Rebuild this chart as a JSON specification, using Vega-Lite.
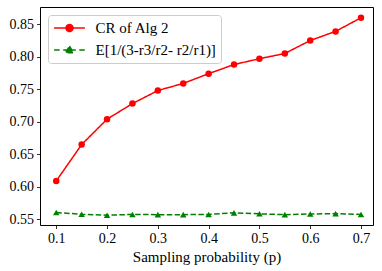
{
  "$schema": "https://vega.github.io/schema/vega-lite/v6.json",
  "width": 333,
  "height": 218,
  "autosize": {"type": "none"},
  "padding": {"left": 40, "top": 7, "right": 9, "bottom": 46},
  "background": "white",
  "config": {
    "font": "Liberation Serif, Times New Roman, serif",
    "view": {"stroke": "black", "strokeWidth": 1},
    "axis": {"grid": false, "domain": false, "tickColor": "black", "tickSize": 3.5, "tickWidth": 0.8, "labelColor": "black", "labelFontSize": 14, "labelFont": "Liberation Serif, Times New Roman, serif", "titleFont": "Liberation Serif, Times New Roman, serif", "titleFontWeight": "normal", "titleColor": "black", "titleFontSize": 15}
  },
  "data": {"values": [
    {"p": 0.10, "v": 0.609, "s": "CR of Alg 2"},
    {"p": 0.15, "v": 0.665, "s": "CR of Alg 2"},
    {"p": 0.20, "v": 0.704, "s": "CR of Alg 2"},
    {"p": 0.25, "v": 0.728, "s": "CR of Alg 2"},
    {"p": 0.30, "v": 0.748, "s": "CR of Alg 2"},
    {"p": 0.35, "v": 0.759, "s": "CR of Alg 2"},
    {"p": 0.40, "v": 0.774, "s": "CR of Alg 2"},
    {"p": 0.45, "v": 0.788, "s": "CR of Alg 2"},
    {"p": 0.50, "v": 0.797, "s": "CR of Alg 2"},
    {"p": 0.55, "v": 0.805, "s": "CR of Alg 2"},
    {"p": 0.60, "v": 0.825, "s": "CR of Alg 2"},
    {"p": 0.65, "v": 0.839, "s": "CR of Alg 2"},
    {"p": 0.70, "v": 0.860, "s": "CR of Alg 2"},
    {"p": 0.10, "v": 0.5605, "s": "E[1/(3-r3/r2- r2/r1)]"},
    {"p": 0.15, "v": 0.5578, "s": "E[1/(3-r3/r2- r2/r1)]"},
    {"p": 0.20, "v": 0.5563, "s": "E[1/(3-r3/r2- r2/r1)]"},
    {"p": 0.25, "v": 0.5575, "s": "E[1/(3-r3/r2- r2/r1)]"},
    {"p": 0.30, "v": 0.5572, "s": "E[1/(3-r3/r2- r2/r1)]"},
    {"p": 0.35, "v": 0.5572, "s": "E[1/(3-r3/r2- r2/r1)]"},
    {"p": 0.40, "v": 0.5575, "s": "E[1/(3-r3/r2- r2/r1)]"},
    {"p": 0.45, "v": 0.5600, "s": "E[1/(3-r3/r2- r2/r1)]"},
    {"p": 0.50, "v": 0.5585, "s": "E[1/(3-r3/r2- r2/r1)]"},
    {"p": 0.55, "v": 0.5572, "s": "E[1/(3-r3/r2- r2/r1)]"},
    {"p": 0.60, "v": 0.5582, "s": "E[1/(3-r3/r2- r2/r1)]"},
    {"p": 0.65, "v": 0.5588, "s": "E[1/(3-r3/r2- r2/r1)]"},
    {"p": 0.70, "v": 0.5575, "s": "E[1/(3-r3/r2- r2/r1)]"}
  ]},
  "encoding": {
    "x": {"field": "p", "type": "quantitative", "title": "Sampling probability (p)",
      "scale": {"domain": [0.068, 0.7236], "nice": false, "zero": false},
      "axis": {"values": [0.1, 0.2, 0.3, 0.4, 0.5, 0.6, 0.7], "format": ".1f", "labelPadding": 3, "titlePadding": 4}},
    "y": {"field": "v", "type": "quantitative", "title": null,
      "scale": {"domain": [0.5413, 0.8765], "nice": false, "zero": false},
      "axis": {"values": [0.55, 0.6, 0.65, 0.7, 0.75, 0.8, 0.85], "format": ".2f", "labelPadding": 3}},
    "color": {"field": "s", "type": "nominal",
      "scale": {"domain": ["CR of Alg 2", "E[1/(3-r3/r2- r2/r1)]"], "range": ["#ff0000", "#008000"]},
      "legend": {
        "title": null, "orient": "top-left", "offset": 8,
        "labelFontSize": 15, "labelColor": "black", "labelFont": "Liberation Serif, Times New Roman, serif",
        "symbolSize": 196, "symbolStrokeWidth": 1.5, "symbolOffset": 8.5, "labelOffset": 18,
        "rowPadding": 6, "padding": 5,
        "fillColor": "rgba(255,255,255,0.8)", "strokeColor": "#cccccc", "cornerRadius": 3,
        "encode": {
          "symbols": {"update": {
            "shape": [
              {"test": "datum.value === 'CR of Alg 2'", "value": "M-2.2,0H2.2M-0.5,0A0.5,0.5 0 1,0 0.5,0A0.5,0.5 0 1,0 -0.5,0Z"},
              {"value": "M-2.2,0H-1.4M-0.9,0H0.9M1.4,0H2.2M0,-0.55L0.55,0.38L-0.55,0.38Z"}
            ],
            "strokeDash": {"value": [1, 0]},
            "opacity": {"value": 1}
          }}
        }
      }
    }
  },
  "layer": [
    {
      "mark": {"type": "line", "strokeWidth": 1.5},
      "encoding": {
        "strokeDash": {"field": "s", "type": "nominal", "legend": null,
          "scale": {"domain": ["CR of Alg 2", "E[1/(3-r3/r2- r2/r1)]"], "range": [[1, 0], [5.5, 2.4]]}}
      }
    },
    {
      "transform": [{"filter": "datum.s === 'CR of Alg 2'"}],
      "mark": {"type": "point", "filled": true, "opacity": 1, "size": 42, "shape": "circle"}
    },
    {
      "transform": [{"filter": "datum.s !== 'CR of Alg 2'"}],
      "mark": {"type": "point", "filled": true, "opacity": 1, "size": 42, "shape": "triangle-up"}
    }
  ]
}
